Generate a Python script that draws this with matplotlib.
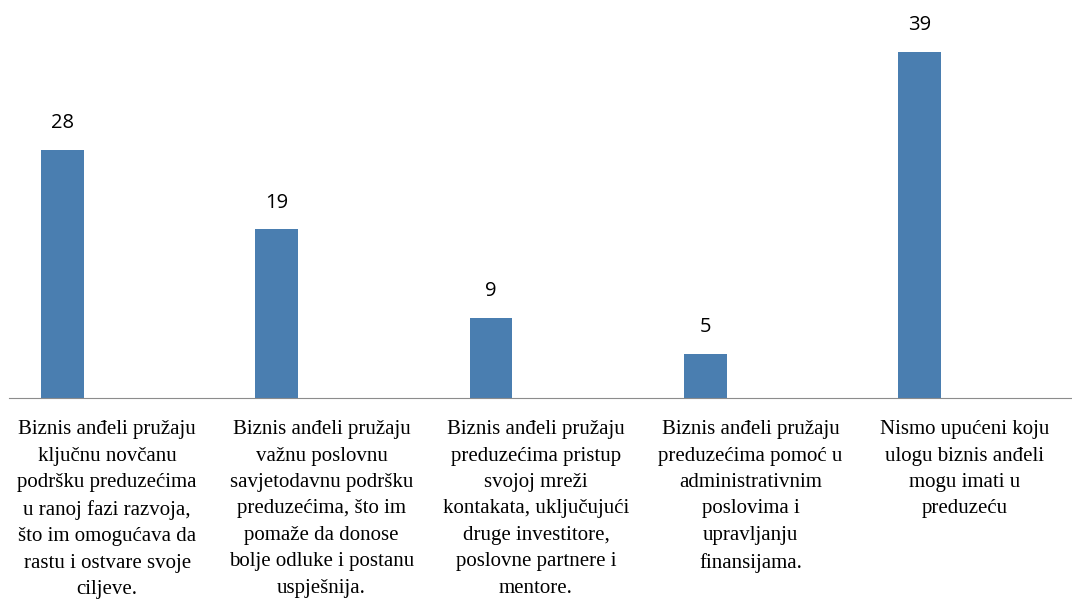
import matplotlib.pyplot as plt
import numpy as np

categories = [
    "Biznis anđeli pružaju\nključnu novčanu\npodršku preduzećima\nu ranoj fazi razvoja,\nšto im omogućava da\nrastu i ostvare svoje\nciljeve.",
    "Biznis anđeli pružaju\nvažnu poslovnu\nsavjetodavnu podršku\npreduzećima, što im\npomaže da donose\nbolje odluke i postanu\nuspješnija.",
    "Biznis anđeli pružaju\npreduzećima pristup\nsvojoj mreži\nkontakata, uključujući\ndruge investitore,\nposlovne partnere i\nmentore.",
    "Biznis anđeli pružaju\npreduzećima pomoć u\nadministrativnim\nposlovima i\nupravljanju\nfinansijama.",
    "Nismo upućeni koju\nulogu biznis anđeli\nmogu imati u\npreduzeću",
]
values = [28, 19, 9, 5, 39]

fig = plt.figure(figsize=(10.72, 6.04), dpi=100)
ax = fig.add_axes([0.0, 1 - 398 / 604, 1.0, 398 / 604])

x = np.arange(len(values))
bars = ax.bar(x - 0.21, values, width=0.2, color="#4A7EB0")

for b, v in zip(bars, values):
    ax.text(b.get_x() + b.get_width() / 2, v + 1.9, str(v),
            ha="center", va="bottom", fontsize=14.5, family="Open Sans")

ax.set_xlim(-0.5, 4.5)
ax.set_ylim(0, 44.87)
ax.set_xticks(x)
ax.set_xticklabels(categories, family="Liberation Serif", fontsize=15,
                   linespacing=1.53)
ax.tick_params(axis="x", length=0, pad=16)
ax.set_yticks([])
for s in ["top", "right", "left"]:
    ax.spines[s].set_visible(False)
ax.spines["bottom"].set_color("#8C8C8C")
ax.spines["bottom"].set_bounds(-0.46, 4.5)

fig.savefig("out.png", dpi=100)
